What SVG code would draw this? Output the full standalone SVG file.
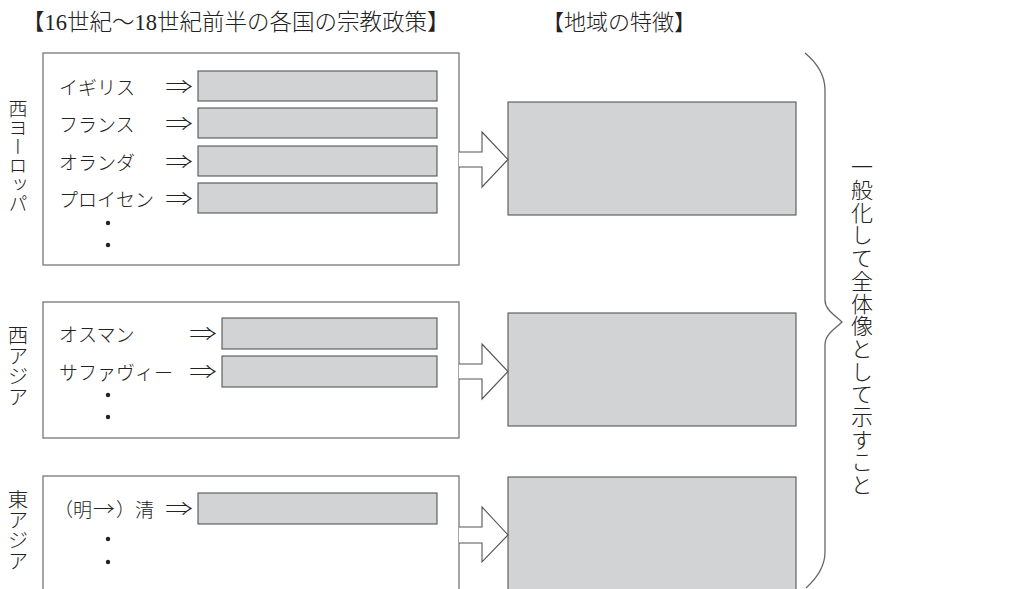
<svg xmlns="http://www.w3.org/2000/svg" width="1013" height="589" viewBox="0 0 1013 589">
<defs>
<style>
.t{font-family:"Liberation Serif","Noto Sans CJK JP",serif;fill:#222;font-weight:300;}
.j{font-family:"Noto Sans CJK JP","Noto Sans CJK SC",sans-serif;fill:#222;font-size:19px;dominant-baseline:central;font-weight:300;}
.a{font-family:"Noto Sans CJK JP","Noto Sans CJK SC",sans-serif;fill:#222;font-size:19px;dominant-baseline:central;font-weight:300;text-anchor:middle;}
.v{font-family:"Noto Sans CJK JP","Noto Sans CJK SC",sans-serif;fill:#222;writing-mode:vertical-rl;font-weight:300;}
.box{fill:#fff;stroke:#777;stroke-width:1.3;}
.g{fill:#d1d3d4;stroke:#555;stroke-width:1.1;}
.arr{fill:#fff;stroke:#555;stroke-width:1.1;stroke-linejoin:miter;}
.dot{fill:#222;}
</style>
</defs>
<rect width="1013" height="589" fill="#fff"/>
<text class="t" x="22" y="30" font-size="22.5">【16世紀～18世紀前半の各国の宗教政策】</text>
<text class="t" x="542" y="30" font-size="22">【地域の特徴】</text>

<g id="west-europe">
<rect class="box" x="43" y="53" width="416" height="212"/>
<text class="v" x="18" y="99" font-size="19">西ヨーロッパ</text>
<text class="j" x="59" y="86">イギリス</text>
<text class="a" transform="translate(179,86) scale(1.45,1)">⇒</text>
<rect class="g" x="198" y="71" width="239" height="30"/>
<text class="j" x="59" y="123">フランス</text>
<text class="a" transform="translate(179,123) scale(1.45,1)">⇒</text>
<rect class="g" x="198" y="108" width="239" height="30"/>
<text class="j" x="59" y="161">オランダ</text>
<text class="a" transform="translate(179,161) scale(1.45,1)">⇒</text>
<rect class="g" x="198" y="146" width="239" height="30"/>
<text class="j" x="59" y="198">プロイセン</text>
<text class="a" transform="translate(179,198) scale(1.45,1)">⇒</text>
<rect class="g" x="198" y="183" width="239" height="30"/>
<circle class="dot" cx="108" cy="223" r="2.2"/>
<circle class="dot" cx="108" cy="245" r="2.2"/>
</g>

<g id="west-asia">
<rect class="box" x="43" y="302" width="416" height="136"/>
<text class="v" x="18" y="325" font-size="20.5">西アジア</text>
<text class="j" x="59" y="333">オスマン</text>
<text class="a" transform="translate(203,333) scale(1.45,1)">⇒</text>
<rect class="g" x="222" y="318" width="215" height="31"/>
<text class="j" x="59" y="371" font-size="18.5">サファヴィー</text>
<text class="a" transform="translate(203,371) scale(1.45,1)">⇒</text>
<rect class="g" x="222" y="356" width="215" height="31"/>
<circle class="dot" cx="108" cy="395" r="2.2"/>
<circle class="dot" cx="108" cy="417" r="2.2"/>
</g>

<g id="east-asia">
<rect class="box" x="43" y="476" width="416" height="130"/>
<text class="v" x="18" y="489" font-size="20.5">東アジア</text>
<text class="j" x="92" y="508" text-anchor="end">（明</text>
<text class="a" transform="translate(104,508) scale(1.15,1)">→</text>
<text class="j" x="116" y="508">）清</text>
<text class="a" transform="translate(179,508) scale(1.45,1)">⇒</text>
<rect class="g" x="198" y="493" width="239" height="31"/>
<circle class="dot" cx="108" cy="539" r="2.2"/>
<circle class="dot" cx="108" cy="562" r="2.2"/>
</g>

<g id="feature-1"><rect class="g" x="508" y="102" width="288" height="113"/></g>
<g id="feature-2"><rect class="g" x="508" y="313" width="288" height="113"/></g>
<g id="feature-3"><rect class="g" x="508" y="477" width="288" height="130"/></g>

<g id="connectors">
<polyline class="arr" points="459,152 482,152 482,132 508,159.5 482,187 482,167 459,167"/>
<polyline class="arr" points="459,364 482,364 482,344 508,371.5 482,399 482,379 459,379"/>
<polyline class="arr" points="459,527 482,527 482,507 508,535 482,562 482,543 459,543"/>
<path d="M805,53 C817,63 825,75 825,90 L825,300 C825,310 835,315 842,322 C835,329 825,334 825,345 L825,552 C825,567 817,578 806,588" fill="none" stroke="#666" stroke-width="1.3"/>
</g>

<g id="summary">
<text class="v" x="862" y="156" font-size="22" letter-spacing="0.7">一般化して全体像として示すこと</text>
</g>
</svg>
